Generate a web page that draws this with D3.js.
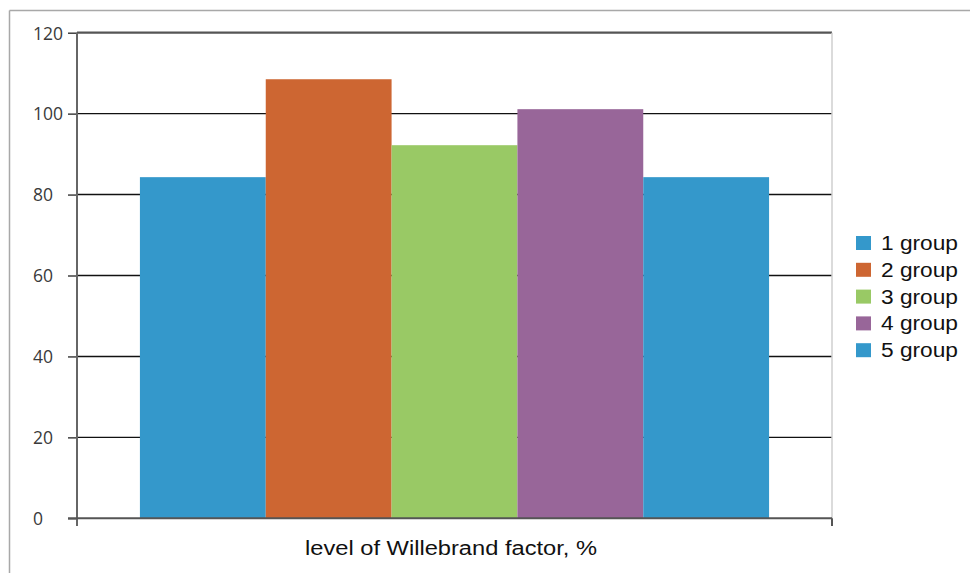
<!DOCTYPE html>
<html>
<head>
<meta charset="utf-8">
<script src="https://cdn.jsdelivr.net/npm/d3@7"></script>
<style>
  html, body { margin: 0; padding: 0; background: #fff; }
  svg { display: block; }
</style>
</head>
<body>
<svg id="chart" width="970" height="573"></svg>
<script>
// Data
const category = "level of Willebrand factor, %";
const groups = ["1 group", "2 group", "3 group", "4 group", "5 group"];
const values = [84.3, 108.5, 92.2, 101.1, 84.3];
const colors = ["#3498cb", "#cd6632", "#99c965", "#986699", "#3498cb"];
const yTicks = [0, 20, 40, 60, 80, 100, 120];

const svg = d3.select("#chart");
const plot = { left: 77, right: 832, top: 32.7, bottom: 518.3 };

// Outer frame (top and left edges)
svg.append("line").attr("x1", 9.5).attr("x2", 970).attr("y1", 10.5).attr("y2", 10.5)
  .attr("stroke", "#a8a8a8").attr("stroke-width", 1.5);
svg.append("line").attr("x1", 9.5).attr("x2", 9.5).attr("y1", 10.5).attr("y2", 573)
  .attr("stroke", "#a8a8a8").attr("stroke-width", 1.5);

const y = d3.scaleLinear().domain([0, 120]).range([plot.bottom, plot.top]);
const x = d3.scaleBand().domain(groups).range([plot.left, plot.right])
  .paddingInner(0).paddingOuter(0.5);

// Horizontal gridlines
svg.append("g").selectAll("line").data(yTicks.filter(t => t > 0)).join("line")
  .attr("x1", plot.left).attr("x2", plot.right)
  .attr("y1", d => y(d)).attr("y2", d => y(d))
  .attr("stroke", d => d === 120 ? "#555" : "#111")
  .attr("stroke-width", d => d === 120 ? 2.2 : 1.4);

// Right edge of plot area
svg.append("line").attr("x1", plot.right).attr("x2", plot.right)
  .attr("y1", plot.top).attr("y2", plot.bottom)
  .attr("stroke", "#cfcfcf").attr("stroke-width", 1.5);

// Bars
svg.append("g").selectAll("rect").data(groups).join("rect")
  .attr("x", d => x(d))
  .attr("width", x.bandwidth())
  .attr("y", (d, i) => y(values[i]))
  .attr("height", (d, i) => y(0) - y(values[i]))
  .attr("fill", (d, i) => colors[i]);

// Y axis
const yAxis = d3.axisLeft(y).tickValues(yTicks).tickSize(9).tickPadding(0);
const gy = svg.append("g").attr("transform", `translate(${plot.left},0)`).call(yAxis);
gy.select(".domain").remove();
gy.selectAll(".tick line").attr("stroke", "#333").attr("stroke-width", 1.4);
gy.selectAll(".tick text")
  .attr("x", 33 - plot.left).attr("text-anchor", "start").attr("dy", "0.36em")
  .attr("fill", "#3a3a3a")
  .style("font-family", "'Open Sans', 'Segoe UI', sans-serif").style("font-size", "17.5px");
svg.append("line").attr("x1", plot.left).attr("x2", plot.left)
  .attr("y1", plot.top).attr("y2", 526)
  .attr("stroke", "#666").attr("stroke-width", 2);

// X axis baseline and end ticks
svg.append("line").attr("x1", plot.left - 9).attr("x2", plot.right)
  .attr("y1", plot.bottom).attr("y2", plot.bottom)
  .attr("stroke", "#555").attr("stroke-width", 2);
svg.append("line").attr("x1", plot.right).attr("x2", plot.right)
  .attr("y1", plot.bottom).attr("y2", 526)
  .attr("stroke", "#555").attr("stroke-width", 2);

// Category label (wide Arial-style lettering)
svg.append("text")
  .attr("x", 305).attr("y", 555)
  .attr("textLength", 292).attr("lengthAdjust", "spacingAndGlyphs")
  .attr("fill", "#111")
  .style("font-family", "'Liberation Sans', Arial, sans-serif").style("font-size", "19.5px")
  .text(category);

// Legend
const legend = svg.append("g").selectAll("g").data(groups).join("g")
  .attr("transform", (d, i) => `translate(856, ${236 + i * 26.8})`);
legend.append("rect").attr("width", 15).attr("height", 14)
  .attr("fill", (d, i) => colors[i]);
legend.append("text").attr("x", 25).attr("y", 7).attr("dy", "0.36em")
  .attr("textLength", 77).attr("lengthAdjust", "spacingAndGlyphs")
  .attr("fill", "#111")
  .style("font-family", "'Liberation Sans', Arial, sans-serif").style("font-size", "19.5px")
  .text(d => d);
</script>
</body>
</html>
